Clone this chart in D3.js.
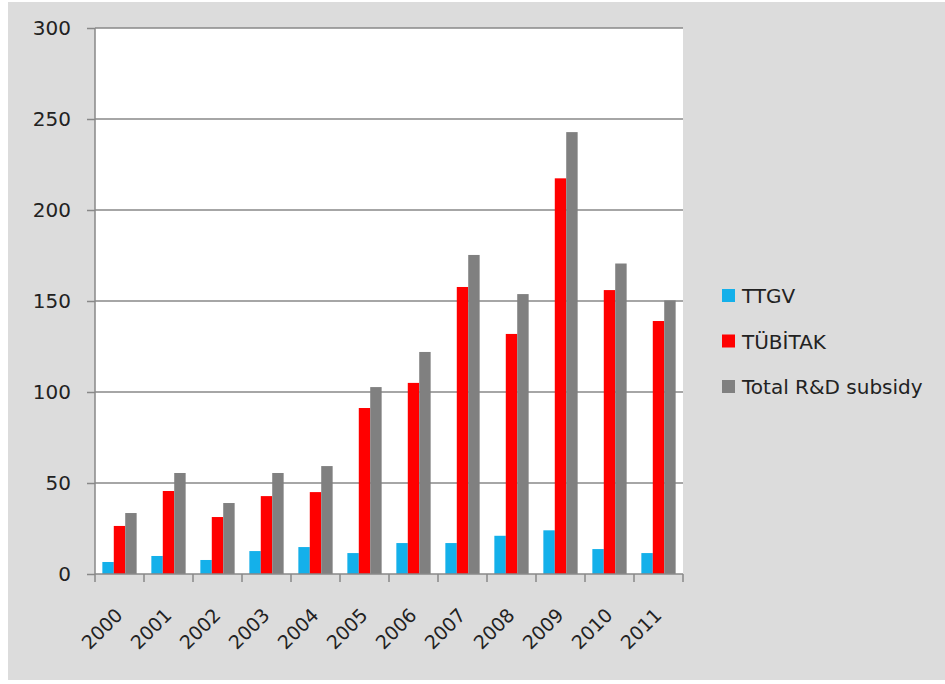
<!DOCTYPE html>
<html>
<head>
<meta charset="utf-8">
<script src="https://cdn.jsdelivr.net/npm/d3@7"></script>
<style>
  body { margin: 0; background: #fff; }
  text { font-family: "DejaVu Sans", sans-serif; fill: #222; }
</style>
</head>
<body>
<div id="chart"></div>
<script>
const width = 945;
const height = 684;

// data
const years = ["2000", "2001", "2002", "2003", "2004", "2005", "2006", "2007", "2008", "2009", "2010", "2011"];
const seriesNames = ["TTGV", "TÜBİTAK", "Total R&D subsidy"];
const ttgv = [6.6, 9.9, 7.7, 12.6, 14.8, 11.5, 17, 17, 21, 24, 13.7, 11.5];
const tubitak = [26.4, 45.6, 31.3, 42.8, 45, 91.2, 105, 157.7, 131.9, 217.4, 156, 139];
const total = [33.5, 55.5, 39, 55.5, 59.3, 102.7, 122, 175.3, 153.8, 242.8, 170.6, 150.3];
const yTicks = [0, 50, 100, 150, 200, 250, 300];
const colors = ["#14b0ea", "#ff0000", "#808080"];

const plot = { left: 95, right: 683, top: 28, bottom: 574 };

const svg = d3.select("#chart")
  .append("svg")
  .attr("width", width)
  .attr("height", height);

// gray chart background
svg.append("rect")
  .attr("x", 8)
  .attr("y", 2)
  .attr("width", width - 8)
  .attr("height", 678)
  .attr("fill", "#dcdcdc");

svg.append("rect")
  .attr("x", plot.left)
  .attr("y", plot.top)
  .attr("width", plot.right - plot.left)
  .attr("height", plot.bottom - plot.top)
  .attr("fill", "#fff");

const yScale = d3.scaleLinear()
  .domain([0, 300])
  .range([plot.bottom, plot.top]);

const xAxisScale = d3.scaleBand()
  .domain(years)
  .range([plot.left, plot.right]);

const x0 = d3.scaleBand()
  .domain(years)
  .range([plot.left, plot.right])
  .paddingInner(0.3)
  .paddingOuter(0.15);

const x1 = d3.scaleBand()
  .domain(seriesNames)
  .range([0, x0.bandwidth()]);

// grid lines
svg.selectAll(".grid")
  .data(yTicks.slice(1))
  .enter()
  .append("line")
  .attr("class", "grid")
  .attr("x1", plot.left)
  .attr("x2", plot.right)
  .attr("y1", function(d) { return yScale(d); })
  .attr("y2", function(d) { return yScale(d); })
  .attr("stroke", "#888")
  .attr("stroke-width", 1.5);

let chartData = [];
years.forEach(function(y, i) {
  chartData.push({ year: y, series: seriesNames[0], value: ttgv[i], color: colors[0] });
  chartData.push({ year: y, series: seriesNames[1], value: tubitak[i], color: colors[1] });
  chartData.push({ year: y, series: seriesNames[2], value: total[i], color: colors[2] });
});

svg.selectAll(".bar")
  .data(chartData)
  .enter()
  .append("rect")
  .attr("class", "bar")
  .attr("x", function(d) { return x0(d.year) + x1(d.series); })
  .attr("y", function(d) { return yScale(d.value); })
  .attr("width", x1.bandwidth())
  .attr("height", function(d) { return yScale(0) - yScale(d.value); })
  .attr("fill", function(d) { return d.color; });

// y axis
const yAxis = svg.append("g")
  .attr("transform", "translate(" + plot.left + ",0)")
  .call(d3.axisLeft(yScale).tickValues(yTicks).tickSize(8).tickPadding(16));
yAxis.selectAll("line, path").attr("stroke", "#888").attr("stroke-width", 1.5);
yAxis.select(".domain").attr("d", "M0," + plot.bottom + "V" + plot.top);
yAxis.selectAll("text")
  .style("font-family", "'DejaVu Sans', sans-serif")
  .style("font-size", "20px")
  .attr("fill", "#222");

// x axis with ticks between groups
const xAxis = svg.append("g")
  .attr("transform", "translate(0," + plot.bottom + ")");
xAxis.append("line")
  .attr("x1", plot.left)
  .attr("x2", plot.right)
  .attr("stroke", "#888")
  .attr("stroke-width", 1.5);
xAxis.selectAll(".xtick")
  .data(years.concat(["end"]))
  .enter()
  .append("line")
  .attr("x1", function(d, i) { return plot.left + i * xAxisScale.step(); })
  .attr("x2", function(d, i) { return plot.left + i * xAxisScale.step(); })
  .attr("y1", 0)
  .attr("y2", 8)
  .attr("stroke", "#888")
  .attr("stroke-width", 1.5);
xAxis.selectAll(".xlabel")
  .data(years)
  .enter()
  .append("text")
  .attr("transform", function(d) {
    return "translate(" + (xAxisScale(d) + xAxisScale.bandwidth() / 2 - 5) + ",33) rotate(-45)";
  })
  .attr("text-anchor", "end")
  .attr("dy", "0.7em")
  .style("font-size", "19px")
  .text(function(d) { return d; });

// legend
const legend = svg.selectAll(".legend")
  .data(seriesNames)
  .enter()
  .append("g")
  .attr("class", "legend")
  .attr("transform", function(d, i) {
    return "translate(722," + (296 + i * 45.5) + ")";
  });
legend.append("rect")
  .attr("x", 0)
  .attr("y", -7)
  .attr("width", 13)
  .attr("height", 13)
  .attr("fill", function(d, i) { return colors[i]; });
legend.append("text")
  .attr("x", 20)
  .attr("dy", "0.36em")
  .style("font-size", "20px")
  .text(function(d) { return d; });
</script>
</body>
</html>
